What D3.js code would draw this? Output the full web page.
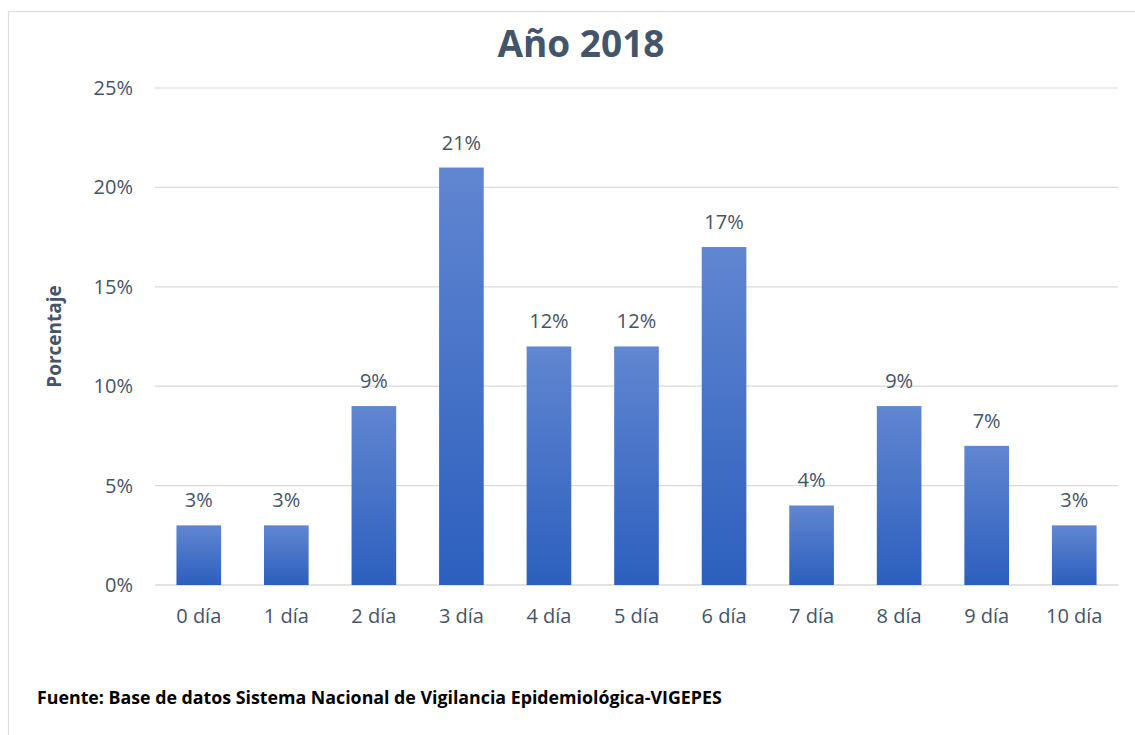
<!DOCTYPE html>
<html>
<head>
<meta charset="utf-8">
<script src="https://cdn.jsdelivr.net/npm/d3@7"></script>
<style>
  body { margin: 0; background: #fff; }
  text { font-family: "Open Sans", Lato, sans-serif; }
</style>
</head>
<body>
<div class="chart"></div>
<script>
const width = 1135;
const height = 735;

// data
const categories = ["0 día","1 día","2 día","3 día","4 día","5 día","6 día","7 día","8 día","9 día","10 día"];
const values = [3, 3, 9, 21, 12, 12, 17, 4, 9, 7, 3];
const yTicks = [0, 5, 10, 15, 20, 25];

const margin = {left: 155, right: 17, top: 88, bottom: 150};

const svg = d3.select(".chart")
    .append("svg")
    .attr("width", width)
    .attr("height", height);

// frame
svg.append("rect")
    .attr("x", 8.5).attr("y", 11.5)
    .attr("width", width).attr("height", height)
    .attr("fill", "none")
    .attr("stroke", "#d9dde3")
    .attr("stroke-width", 1.2);

// gradient for bars
const grad = svg.append("defs").append("linearGradient")
    .attr("id", "barGrad")
    .attr("x1", 0).attr("y1", 0).attr("x2", 0).attr("y2", 1);
grad.append("stop").attr("offset", "0%").attr("stop-color", "#6186d1");
grad.append("stop").attr("offset", "100%").attr("stop-color", "#2c5fbe");

const x = d3.scaleBand()
    .domain(categories)
    .range([margin.left, width - margin.right])
    .paddingInner(0.49)
    .paddingOuter(0.245);

const y = d3.scaleLinear()
    .domain([0, 25])
    .range([height - margin.bottom, margin.top]);

// gridlines
svg.append("g")
    .selectAll("line")
    .data(yTicks)
    .join("line")
    .attr("x1", margin.left)
    .attr("x2", width - margin.right)
    .attr("y1", d => y(d))
    .attr("y2", d => y(d))
    .attr("stroke", "#d9d9d9")
    .attr("stroke-width", d => d === 0 ? 1.6 : 1.2);

// y tick labels
svg.append("g")
    .selectAll("text")
    .data(yTicks)
    .join("text")
    .attr("x", 133)
    .attr("y", d => y(d))
    .attr("dy", "0.35em")
    .attr("text-anchor", "end")
    .attr("fill", "#44546a")
    .attr("font-size", 20)
    .text(d => d + "%");

// bars
svg.append("g")
    .selectAll("rect")
    .data(values)
    .join("rect")
    .attr("x", (d, i) => x(categories[i]))
    .attr("width", x.bandwidth())
    .attr("y", d => y(d))
    .attr("height", d => y(0) - y(d))
    .attr("fill", "url(#barGrad)");

// value labels
svg.append("g")
    .selectAll("text")
    .data(values)
    .join("text")
    .attr("x", (d, i) => x(categories[i]) + x.bandwidth() / 2)
    .attr("y", d => y(d) - 18)
    .attr("text-anchor", "middle")
    .attr("fill", "#44546a")
    .attr("font-size", 20)
    .text(d => d + "%");

// x labels
svg.append("g")
    .selectAll("text")
    .data(categories)
    .join("text")
    .attr("x", d => x(d) + x.bandwidth() / 2)
    .attr("y", y(0) + 38)
    .attr("text-anchor", "middle")
    .attr("fill", "#44546a")
    .attr("font-size", 20)
    .text(d => d);

// title
svg.append("text")
    .attr("x", 581)
    .attr("y", 57)
    .attr("text-anchor", "middle")
    .attr("fill", "#44546a")
    .attr("font-size", 37)
    .attr("font-weight", "bold")
    .text("Año 2018");

// y axis title
svg.append("text")
    .attr("transform", "translate(61," + ((y(0) + y(25)) / 2) + ") rotate(-90)")
    .attr("text-anchor", "middle")
    .attr("fill", "#44546a")
    .attr("font-size", 19)
    .attr("font-weight", "bold")
    .text("Porcentaje");

// source
svg.append("text")
    .attr("x", 37)
    .attr("y", 704)
    .attr("fill", "#000")
    .attr("font-size", 17.8)
    .attr("font-weight", "bold")
    .text("Fuente: Base de datos Sistema Nacional de Vigilancia Epidemiológica-VIGEPES");
</script>
</body>
</html>
